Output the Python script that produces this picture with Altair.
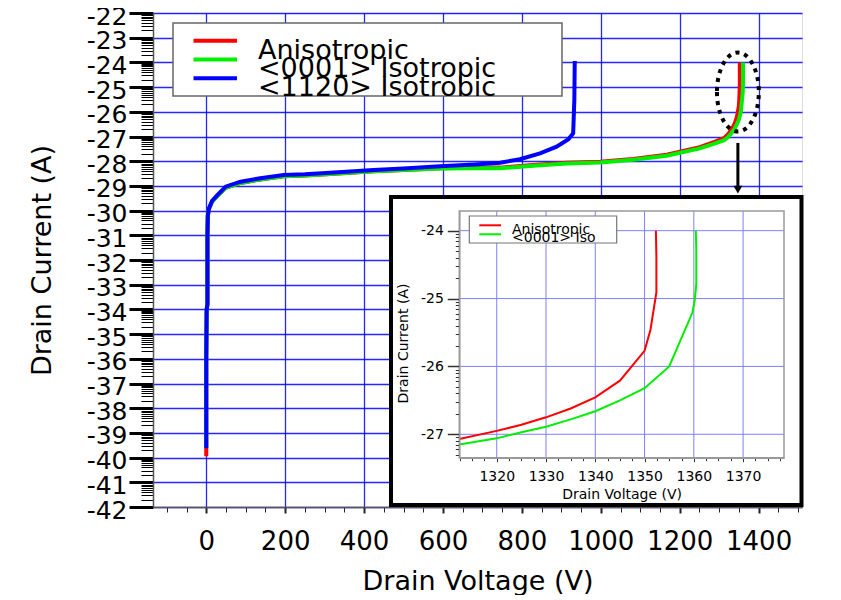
import altair as alt
import pandas as pd

FONT = "DejaVu Sans"

# ---------------- data ----------------
SERIES_NAMES = ["Anisotropic", "<0001> Isotropic", "<1120> Isotrobic"]
SERIES_COLORS = ["#ff0000", "#00ee00", "#0000ff"]

aniso_v = [0, 0, 1, 3, 3, 4, 7, 15, 28, 49, 87, 137, 196, 250, 314, 424, 500, 593, 680, 745,
           829, 914, 998, 1082, 1167, 1251, 1290, 1312.4, 1320, 1325, 1330, 1335, 1340, 1345,
           1350, 1351.2, 1352.4, 1352.4, 1352.3]
aniso_i = [-39.95, -36, -34, -33.8, -31, -30.2, -29.92, -29.63, -29.41, -29.08, -28.88, -28.74,
           -28.61, -28.58, -28.52, -28.41, -28.36, -28.29, -28.27, -28.26, -28.15, -28.06, -28.02,
           -27.91, -27.74, -27.43, -27.21, -27.07, -26.95, -26.86, -26.75, -26.62, -26.455, -26.21,
           -25.77, -25.46, -24.91, -24.38, -24.0]

iso0001_v = [0, 0, 1, 3, 3, 4, 7, 15, 28, 49, 87, 137, 196, 250, 314, 424, 500, 593, 680, 745,
             829, 914, 998, 1082, 1167, 1251, 1290, 1312.4, 1320, 1325, 1330, 1335, 1340, 1345,
             1350, 1355, 1359.7, 1360.2, 1360.5, 1360.5, 1360.4]
iso0001_i = [-39.6, -36, -34, -33.8, -31, -30.2, -29.92, -29.63, -29.41, -29.08, -28.88, -28.74,
             -28.61, -28.58, -28.52, -28.41, -28.36, -28.3, -28.29, -28.29, -28.18, -28.09, -28.05,
             -27.94, -27.78, -27.48, -27.28, -27.15, -27.06, -26.97, -26.89, -26.78, -26.66, -26.5,
             -26.32, -26.0, -25.21, -25.02, -24.78, -24.28, -24.0]

iso1120_v = [0, 0, 1, 3, 3, 4, 7, 15, 28, 49, 87, 137, 196, 250, 314, 424, 500, 593, 680, 745,
             795, 846, 888, 918, 930, 933, 934]
iso1120_i = [-39.62, -36, -34, -33.8, -31, -30.2, -29.9, -29.6, -29.37, -29.03, -28.83, -28.69,
             -28.56, -28.53, -28.47, -28.36, -28.3, -28.2, -28.13, -28.06, -27.92, -27.68, -27.41,
             -27.11, -26.87, -25.5, -23.94]

MAIN_X_DOMAIN = [-135, 1510]
MAIN_Y_DOMAIN = [-42, -22]
MAIN_X_TICKS = list(range(-100, 1501, 50))
MAIN_Y_MAJOR = list(range(-42, -21))

INSET_X_DOMAIN = [1312.4, 1378.3]
INSET_Y_DOMAIN = [-27.345, -23.71]
INSET_X_GRID = [1320, 1330, 1340, 1350, 1360, 1370]
INSET_Y_GRID = [-27, -26, -25, -24]
INSET_X_TICKS = [1312.5 + 2.5 * k for k in range(27)]
INSET_NAMES = ["Anisotropic", "<0001> Iso"]

# log-style minor tick offsets within each unit
MINOR_OFFSETS = [0.301, 0.477, 0.602, 0.699, 0.778, 0.845, 0.903, 0.954]

MAIN_Y_TICKS = MAIN_Y_MAJOR + [n + o for n in range(-42, -22) for o in MINOR_OFFSETS]
INSET_Y_TICKS = INSET_Y_GRID + [n + o for n in range(-28, -23) for o in MINOR_OFFSETS
                                if INSET_Y_DOMAIN[0] <= n + o <= INSET_Y_DOMAIN[1]]

# annotation (ellipse + arrow) positions in data units
ELLIPSE_V, ELLIPSE_I = 1347.5, -25.2
ARROW_V, ARROW_I1, ARROW_I2 = 1347.5, -27.26, -29.15

# ---------------- layout (pixels, relative to plot origin) ----------------
W, H = 649, 494
INSET_PLOT = (306.3, 198.0, 631.0, 444.7)   # x0, y0, x1, y1
INSET_BOX = (238.0, 184.0, 648.5, 492.0)


def frame(v, i):
    return pd.DataFrame({"V": v, "I": i, "o": list(range(len(v)))})


def cond(test, a, b):
    return {"condition": {"test": test, "value": a}, "value": b}


INT_TEST = "abs(datum.value - round(datum.value)) < 0.001"

main_x_axis = alt.Axis(
    orient="bottom",
    values=MAIN_X_TICKS,
    labelExpr="datum.value >= 0 && datum.value <= 1400 && datum.value % 200 == 0 ? '' + datum.value : ''",
    title="Drain Voltage (V)", titleFont=FONT, titleFontSize=27, titleFontWeight="normal",
    titleColor="black", titlePadding=14,
    labelFont=FONT, labelFontSize=26, labelColor="black", labelPadding=15,
    labelOverlap=False, labelFlush=False,
    tickSize=cond("datum.value % 200 == 0", 6, 5),
    tickWidth=cond("datum.value % 200 == 0", 2, 1),
    tickColor="#222",
    grid=True, gridColor="#0000ff", gridWidth=1.3,
    gridOpacity=cond("datum.value % 200 == 0 && datum.value >= 0", 0.85, 0),
    domainColor="#555", domainWidth=1.5,
)
main_y_axis = alt.Axis(
    orient="left",
    values=MAIN_Y_TICKS,
    labelExpr=INT_TEST + " ? '' + round(datum.value) : ''",
    title="Drain Current (A)", titleFont=FONT, titleFontSize=27, titleFontWeight="normal",
    titleColor="black", titlePadding=30,
    labelFont=FONT, labelFontSize=25, labelColor="black", labelPadding=2, labelOffset=3,
    labelOverlap=False, labelFlush=False,
    tickSize=cond(INT_TEST, 24, 12),
    tickWidth=cond(INT_TEST, 3, 1),
    tickColor="black",
    grid=True, gridColor="#0000ff", gridWidth=1.3,
    gridOpacity=cond(INT_TEST, 0.85, 0),
    domainColor="#555", domainWidth=1.5,
)

mx = alt.X("V:Q", scale=alt.Scale(domain=MAIN_X_DOMAIN, nice=False, zero=False), axis=main_x_axis)
my = alt.Y("I:Q", scale=alt.Scale(domain=MAIN_Y_DOMAIN, nice=False, zero=False), axis=main_y_axis)

main_series = [(aniso_v, aniso_i), (iso0001_v, iso0001_i), (iso1120_v, iso1120_i)]
main_layers = []
for (v, i), col in zip(main_series, SERIES_COLORS):
    main_layers.append(
        alt.Chart(frame(v, i)).mark_line(color=col, strokeWidth=4).encode(
            x=mx, y=my, order="o:Q")
    )

# dotted ellipse
ell = alt.Chart(pd.DataFrame({"V": [ELLIPSE_V], "I": [ELLIPSE_I]})).mark_point(
    shape="M -0.53 0 A 0.53 1 0 1 0 0.53 0 A 0.53 1 0 1 0 -0.53 0 Z",
    size=6241, filled=False, color="black", strokeWidth=4, strokeDash=[4, 5], opacity=1,
).encode(x=mx, y=my)
arrow = alt.Chart(pd.DataFrame({"V": [ARROW_V], "I": [ARROW_I1], "I2": [ARROW_I2]})).mark_rule(
    color="black", strokeWidth=3).encode(x=mx, y=my, y2="I2:Q")
head = alt.Chart(pd.DataFrame({"V": [ARROW_V], "I": [ARROW_I2]})).mark_point(
    shape="triangle-down", filled=True, size=80, color="black", opacity=1).encode(x=mx, y=my)
main_layers += [ell, arrow, head]

# main legend
one = pd.DataFrame({"a": [0]})
main_layers.append(
    alt.Chart(one).mark_rect(fill="white", stroke="#666", strokeWidth=1.5).encode(
        x=alt.value(20), x2=alt.value(409), y=alt.value(10), y2=alt.value(83))
)
for k, (name, col) in enumerate(zip(SERIES_NAMES, SERIES_COLORS)):
    ly = 27.7 + 18.8 * k
    main_layers.append(
        alt.Chart(one).mark_rule(color=col, strokeWidth=4).encode(
            x=alt.value(40.5), x2=alt.value(84), y=alt.value(ly))
    )
    main_layers.append(
        alt.Chart(pd.DataFrame({"t": [name]})).mark_text(
            align="left", baseline="alphabetic", font=FONT, fontSize=27, color="black").encode(
            x=alt.value(105), y=alt.value(45.5 + 18.5 * k), text="t:N")
    )

main = alt.layer(*main_layers)

# ---------------- inset ----------------
ix0, iy0, ix1, iy1 = INSET_PLOT
inset_x_axis = alt.Axis(
    orient="bottom",
    values=INSET_X_TICKS,
    labelExpr="datum.value % 10 == 0 ? '' + datum.value : ''",
    title="Drain Voltage (V)", titleFont=FONT, titleFontSize=14, titleFontWeight="normal",
    titleColor="black", titlePadding=4,
    labelFont=FONT, labelFontSize=14, labelColor="black", labelPadding=8,
    labelOverlap=False, labelFlush=False,
    tickSize=cond("datum.value % 10 == 0", 4, 3), tickColor="#333",
    grid=False, domainColor="#999", domainWidth=1.5,
    offset=-(H - iy1), zindex=1,
)
inset_y_axis = alt.Axis(
    orient="left",
    values=INSET_Y_TICKS,
    labelExpr=INT_TEST + " ? '' + round(datum.value) : ''",
    title="Drain Current (A)", titleFont=FONT, titleFontSize=14, titleFontWeight="normal",
    titleColor="black", titlePadding=10, titleY=330,
    labelFont=FONT, labelFontSize=14, labelColor="black", labelPadding=4,
    labelOverlap=False, labelFlush=False,
    tickSize=cond(INT_TEST, 12, 4), tickWidth=cond(INT_TEST, 1.5, 1), tickColor="#333",
    grid=False, domainColor="#999", domainWidth=1.5,
    offset=-ix0, zindex=1,
)
ixe = alt.X("V:Q", scale=alt.Scale(domain=INSET_X_DOMAIN, range=[ix0, ix1], nice=False, zero=False),
            axis=inset_x_axis)
iye = alt.Y("I:Q", scale=alt.Scale(domain=INSET_Y_DOMAIN, range=[iy1, iy0], nice=False, zero=False),
            axis=inset_y_axis)

bx0, by0, bx1, by1 = INSET_BOX
inset_layers = [
    alt.Chart(one).mark_rect(fill="white", stroke="black", strokeWidth=4).encode(
        x=alt.value(bx0), x2=alt.value(bx1), y=alt.value(by0), y2=alt.value(by1)),
    alt.Chart(pd.DataFrame({"V": INSET_X_GRID})).mark_rule(color="#7f7fff", strokeWidth=1).encode(
        x=ixe, y=alt.value(iy0), y2=alt.value(iy1)),
    alt.Chart(pd.DataFrame({"I": INSET_Y_GRID})).mark_rule(color="#7f7fff", strokeWidth=1).encode(
        y=iye, x=alt.value(ix0), x2=alt.value(ix1)),
    alt.Chart(one).mark_rect(fill=None, stroke="#999", strokeWidth=1.5).encode(
        x=alt.value(ix0), x2=alt.value(ix1), y=alt.value(iy0), y2=alt.value(iy1)),
]
for (v, i), col in zip(main_series[:2], SERIES_COLORS[:2]):
    inset_layers.append(
        alt.Chart(frame(v, i)).transform_filter(f"datum.V >= {INSET_X_DOMAIN[0]}").mark_line(
            color=col, strokeWidth=2).encode(x=ixe, y=iye, order="o:Q")
    )
inset_layers.append(
    alt.Chart(one).mark_rect(fill="white", stroke="#777", strokeWidth=1.2).encode(
        x=alt.value(316.3), x2=alt.value(463.7), y=alt.value(203), y2=alt.value(230))
)
for k, (name, col) in enumerate(zip(INSET_NAMES, SERIES_COLORS[:2])):
    inset_layers.append(
        alt.Chart(one).mark_rule(color=col, strokeWidth=2).encode(
            x=alt.value(326.3), x2=alt.value(348), y=alt.value(212.3 + 9 * k))
    )
    inset_layers.append(
        alt.Chart(pd.DataFrame({"t": [name]})).mark_text(
            align="left", baseline="alphabetic", font=FONT, fontSize=14, color="black").encode(
            x=alt.value(359), y=alt.value(220.5 + 8.8 * k), text="t:N")
    )
inset = alt.layer(*inset_layers)

chart = alt.layer(main, inset).resolve_scale(x="independent", y="independent").properties(
    width=W, height=H,
    padding={"left": 145, "top": 5, "right": 25, "bottom": 88},
    autosize=alt.AutoSizeParams(type="none"),
    background="white",
).configure_view(stroke="#888", strokeWidth=1.5).configure(font=FONT)

chart.save("out.html", embed_options={"renderer": "svg", "actions": False})
